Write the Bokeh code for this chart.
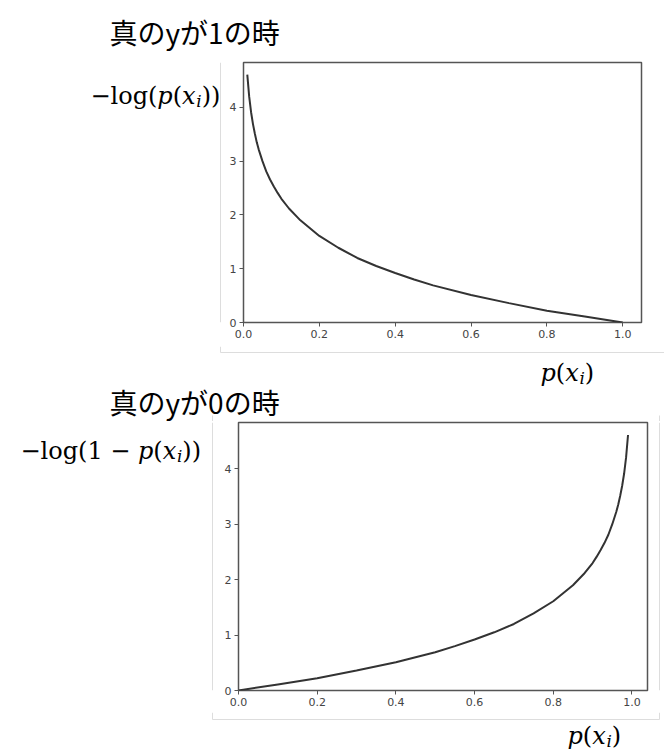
from bokeh.plotting import figure
from bokeh.models import Range1d, FixedTicker, PrintfTickFormatter
from bokeh.layouts import column, row
from bokeh.core.properties import value
from bokeh.embed import file_html
from bokeh.resources import INLINE

# ---- data ----
p_top = [0.01, 0.015, 0.02, 0.025, 0.03, 0.035, 0.04, 0.05, 0.06, 0.07, 0.08, 0.09, 0.10,
         0.12, 0.15, 0.20, 0.25, 0.30, 0.35, 0.40, 0.45, 0.50, 0.60, 0.70, 0.80, 0.90, 1.00]
loss_y1 = [4.61, 4.20, 3.91, 3.69, 3.51, 3.35, 3.22, 3.00, 2.81, 2.66, 2.53, 2.41, 2.30,
           2.12, 1.90, 1.61, 1.39, 1.20, 1.05, 0.92, 0.80, 0.69, 0.51, 0.36, 0.22, 0.11, 0.00]

p_bot = [0.00, 0.10, 0.20, 0.30, 0.40, 0.50, 0.55, 0.60, 0.65, 0.70, 0.75, 0.80,
         0.85, 0.88, 0.90, 0.91, 0.92, 0.93, 0.94, 0.95, 0.96, 0.965, 0.97, 0.975, 0.98, 0.985, 0.99]
loss_y0 = [0.00, 0.11, 0.22, 0.36, 0.51, 0.69, 0.80, 0.92, 1.05, 1.20, 1.39, 1.61,
           1.90, 2.12, 2.30, 2.41, 2.53, 2.66, 2.81, 3.00, 3.22, 3.35, 3.51, 3.69, 3.91, 4.20, 4.61]

x_ticks = [0.0, 0.2, 0.4, 0.6, 0.8, 1.0]
y_ticks = [0, 1, 2, 3, 4]
title_y1 = "真のyが1の時"
title_y0 = "真のyが0の時"

SERIF_W = {"−": 0.838, "l": 0.320, "o": 0.602, "g": 0.635, "(": 0.390, ")": 0.390,
           "1": 0.636, " ": 0.318}
ITAL_W = {"p": 0.640, "x": 0.592, "i": 0.320}
GRAY = "#dddddd"
TEXT_DY = -10  # compensation for the renderer's baseline placement


def text_fig(w, h):
    p = figure(width=w, height=h, output_backend="svg", toolbar_location=None,
               x_range=Range1d(0, w), y_range=Range1d(h, 0),
               x_axis_type=None, y_axis_type=None,
               min_border=0, min_border_left=0, min_border_right=0,
               min_border_top=0, min_border_bottom=0)
    p.grid.visible = False
    p.outline_line_color = None
    p.background_fill_color = "white"
    p.border_fill_color = "white"
    return p


def put_text(p, x, y, txt, font, size, style="normal"):
    p.text(x=[x], y=[y + TEXT_DY], text=[txt], text_font=value(font),
           text_font_size=value(f"{size:.1f}px"),
           text_font_style=style, text_baseline="alphabetic", text_align="left",
           text_color="black")


def math_label(p, x0, y0, parts, size):
    x = x0
    for txt, italic, sub in parts:
        fs = size * 0.7 if sub else size
        dy = size * 0.22 if sub else 0
        put_text(p, x, y0 + dy, txt, "DejaVu Serif", fs, "italic" if italic else "normal")
        x += sum((ITAL_W if italic else SERIF_W).get(c, 0.6) for c in txt) * fs


def chart_fig(w, h, left, right, top, bottom, xr, yr):
    p = figure(width=w, height=h, output_backend="svg", toolbar_location=None,
               x_range=Range1d(*xr), y_range=Range1d(*yr),
               min_border_left=left, min_border_right=right,
               min_border_top=top, min_border_bottom=bottom)
    p.grid.visible = False
    p.outline_line_color = "#555555"
    p.outline_line_width = 1.5
    p.background_fill_color = "white"
    p.border_fill_color = "white"
    for ax in (p.xaxis, p.yaxis):
        ax.axis_line_color = None
        ax.major_tick_in = 0
        ax.major_tick_out = 4
        ax.major_tick_line_color = "#555555"
        ax.minor_tick_line_color = None
        ax.major_label_text_font = "DejaVu Sans"
        ax.major_label_text_font_size = "11px"
        ax.major_label_text_color = "#444444"
        ax.major_label_standoff = 3
    p.xaxis.ticker = FixedTicker(ticks=x_ticks)
    p.yaxis.ticker = FixedTicker(ticks=y_ticks)
    p.xaxis.formatter = PrintfTickFormatter(format="%.1f")
    p.yaxis.formatter = PrintfTickFormatter(format="%d")
    return p


ylab1 = [("−log(", False, False), ("p", True, False), ("(", False, False),
         ("x", True, False), ("i", True, True), ("))", False, False)]
ylab0 = [("−log(1 − ", False, False), ("p", True, False), ("(", False, False),
         ("x", True, False), ("i", True, True), ("))", False, False)]
xlab = [("p", True, False), ("(", False, False), ("x", True, False),
        ("i", True, True), (")", False, False)]

# ---- top block ----
t1 = text_fig(664, 55)
put_text(t1, 109, 41, title_y1, "Noto Sans CJK JP", 28)

l1 = text_fig(226, 291)
math_label(l1, 90, 48, ylab1, 24)
l1.segment(x0=[220], y0=[0], x1=[220], y1=[291], line_color=GRAY, line_width=1)

c1 = chart_fig(438, 291, 17, 23, 7, 24, (0.0, 1.0495), (0.0, 4.835))
c1.line(p_top, loss_y1, line_color="#333333", line_width=2)

# ---- middle strip: x label of the top chart and title of the bottom one ----
mid = text_fig(664, 75)
mid.segment(x0=[220, 220, 212, 659], y0=[0, 6, 69, 69], x1=[220, 664, 212, 659], y1=[6, 6, 75, 75],
            line_color=GRAY, line_width=1)
math_label(mid, 540, 36, xlab, 24)
put_text(mid, 109, 65, title_y0, "Noto Sans CJK JP", 28)

# ---- bottom block ----
l2 = text_fig(218, 291)
math_label(l2, 20, 41, ylab0, 24)
l2.segment(x0=[212], y0=[0], x1=[212], y1=[291], line_color=GRAY, line_width=1)

c2 = chart_fig(434, 291, 20, 5, 1, 22, (0.0, 1.0395), (0.0, 4.835))
c2.line(p_bot, loss_y0, line_color="#333333", line_width=2)

r2 = text_fig(12, 291)
r2.segment(x0=[7], y0=[0], x1=[7], y1=[291], line_color=GRAY, line_width=1)

b2 = text_fig(664, 42)
b2.segment(x0=[212, 212, 659], y0=[0, 7, 0], x1=[212, 659, 659], y1=[7, 7, 7],
           line_color=GRAY, line_width=1)
math_label(b2, 567, 33, xlab, 24)

layout = column(t1, row(l1, c1), mid, row(l2, c2, r2), b2)
open("out.html", "w").write(file_html(layout, INLINE))
